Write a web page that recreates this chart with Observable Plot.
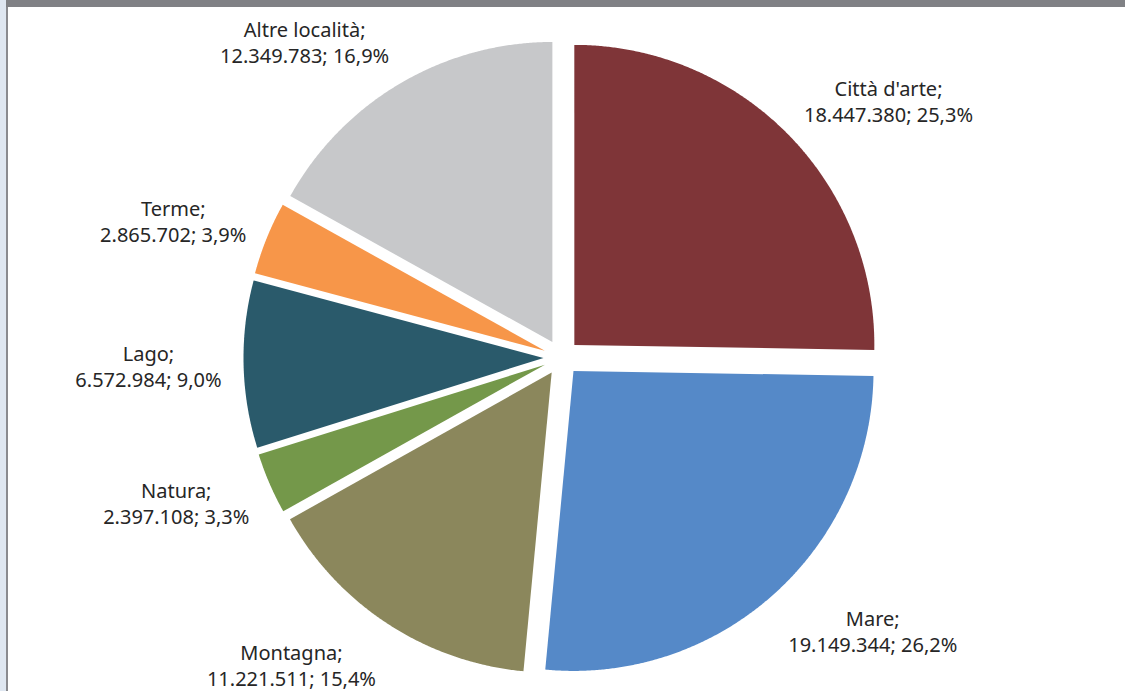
<!DOCTYPE html>
<html><head><meta charset="utf-8">
<script src="https://cdn.jsdelivr.net/npm/d3@7"></script>
<script src="https://cdn.jsdelivr.net/npm/@observablehq/plot@0.6"></script>
<style>
html,body{margin:0;padding:0;background:#fff;width:1125px;height:691px;overflow:hidden;position:relative}
#chart{position:absolute;left:0;top:0}
#strip{position:absolute;left:0;top:0;width:6px;height:691px;background:#dfe7f1}
#border{position:absolute;left:6px;top:0;width:2px;height:691px;background:#8a8b8f}
#topbar{position:absolute;left:6px;top:0;width:1119px;height:7px;background:#808185}
</style></head><body>
<div id="chart"></div><div id="strip"></div><div id="border"></div><div id="topbar"></div>
<script>
const categories = ["Città d'arte", "Mare", "Montagna", "Natura", "Lago", "Terme", "Altre località"];
const values = [18447380, 19149344, 11221511, 2397108, 6572984, 2865702, 12349783];
const colors = ["#7f3538", "#5589c8", "#8b875c", "#74984a", "#2a5a6b", "#f79649", "#c7c8ca"];

const W = 1125, H = 691;
const cx = 561, cy = 357;      // pie centre in page pixels
const radius = 300, explode = 18, labelR = 340;
const fontSize = 20, font = "'Noto Sans', 'Open Sans', sans-serif";

const loc = d3.formatLocale({decimal: ",", thousands: ".", grouping: [3], currency: ["", "€"]});
const fmtNum = loc.format(",d"), fmtPct = loc.format(".1%");
const total = d3.sum(values);

const ctx = document.createElement("canvas").getContext("2d");
ctx.font = `${fontSize}px ${font}`;

const wedgeRows = [], labelRows = [];
let acc = 0;
categories.forEach((name, i) => {
  const a0 = acc / total * 2 * Math.PI;
  acc += values[i];
  const a1 = acc / total * 2 * Math.PI;
  const am = (a0 + a1) / 2;
  const ox = explode * Math.sin(am), oy = -explode * Math.cos(am);
  wedgeRows.push({name, x: ox, y: oy});
  const n = Math.max(2, Math.ceil((a1 - a0) / 0.005));
  for (let k = 0; k <= n; k++) {
    const a = a0 + (a1 - a0) * k / n;
    wedgeRows.push({name, x: ox + radius * Math.sin(a), y: oy - radius * Math.cos(a)});
  }
  wedgeRows.push({name, x: ox, y: oy});
  const l1 = name + ";", l2 = fmtNum(values[i]) + "; " + fmtPct(values[i] / total);
  const w = Math.max(ctx.measureText(l1).width, ctx.measureText(l2).width);
  const h = fontSize * 2.6;
  labelRows.push({
    text: l1 + "\n" + l2,
    x: labelR * Math.sin(am) + Math.sign(Math.sin(am)) * w / 2,
    y: -labelR * Math.cos(am) - Math.cos(am) * h / 2
  });
});

const chart = Plot.plot({
  width: W, height: H,
  margin: 0,
  x: {type: "linear", domain: [-cx, W - cx], range: [0, W], axis: null},
  y: {type: "linear", domain: [-cy, H - cy], range: [0, H], axis: null},
  color: {type: "ordinal", domain: categories, range: colors},
  style: {background: "#fff"},
  marks: [
    Plot.line(wedgeRows, {x: "x", y: "y", z: "name", fill: "name", stroke: "none"}),
    Plot.text(labelRows, {x: "x", y: "y", text: "text", fontSize, fontFamily: font,
      fill: "#262626", textAnchor: "middle", lineAnchor: "middle", lineHeight: 1.3})
  ]
});
document.getElementById("chart").appendChild(chart);
</script>
</body></html>
